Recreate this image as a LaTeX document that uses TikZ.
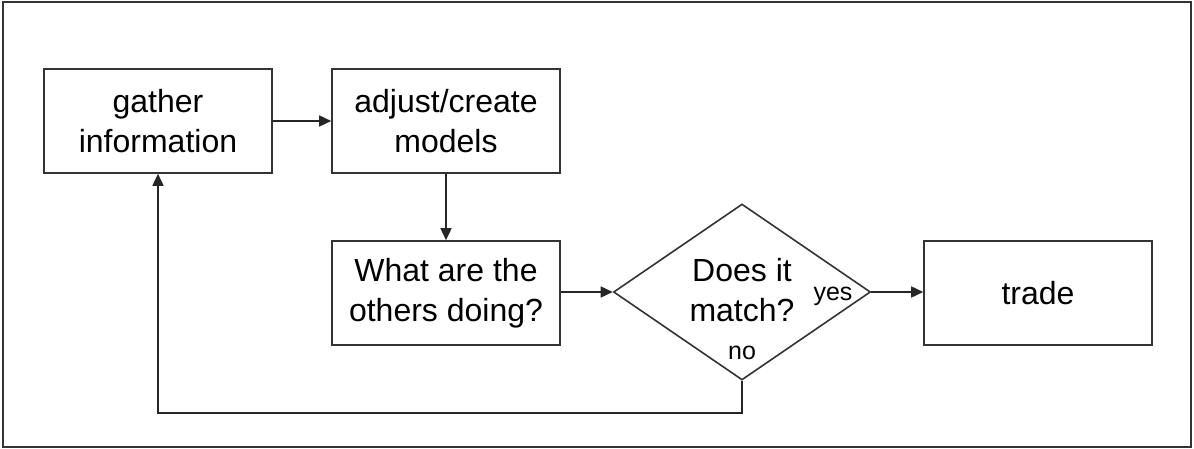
\documentclass[tikz,border=0pt]{standalone}
\usepackage{fontspec}
\setmainfont{Liberation Sans}
\usetikzlibrary{arrows.meta,shapes.geometric}
\begin{document}
\begin{tikzpicture}[x=1pt,y=-1pt,
  stepbox/.style={draw=black!80,line width=1.6pt,minimum width=228pt,minimum height=104pt,inner sep=0pt,align=center,font=\fontsize{32}{40}\selectfont},
  conn/.style={draw=black!85,line width=1.6pt,-{Triangle[length=12pt,width=11pt]}},
  lbl/.style={font=\fontsize{25}{30}\selectfont,inner sep=0pt}]
\useasboundingbox (0,0) rectangle (1194,449);
\draw[black!80,line width=1.6pt] (3,2) rectangle (1191,447);
\node[stepbox] (gather) at (158,121) {gather\\information};
\node[stepbox] (adjust) at (446,121) {adjust/create\\models};
\node[stepbox] (others) at (446,293) {What are the\\others doing?};
\node[draw=black!80,line width=1.6pt,diamond,minimum width=257pt,minimum height=176pt,inner sep=0pt] (match) at (742,292) {};
\node[align=center,font=\fontsize{32}{40}\selectfont,inner sep=0pt] (matchtext) at (742,290) {Does it\\match?};
\node[lbl] (yes) at (833,296) {yes};
\node[lbl] (no) at (742,353) {no};
\node[stepbox] (trade) at (1038,293) {trade};
\coordinate (c1) at (742,413);
\coordinate (c2) at (158,413);
\draw[conn] (gather.east) -- (adjust.west);
\draw[conn] (adjust.south) -- (others.north);
\draw[conn] (others.east |- match.west) -- (match.west);
\draw[conn] (match.east) -- (trade.west |- match.east);
\draw[conn] (match.south) -- (c1) -- (c2) -- (gather.south);
\end{tikzpicture}
\end{document}
